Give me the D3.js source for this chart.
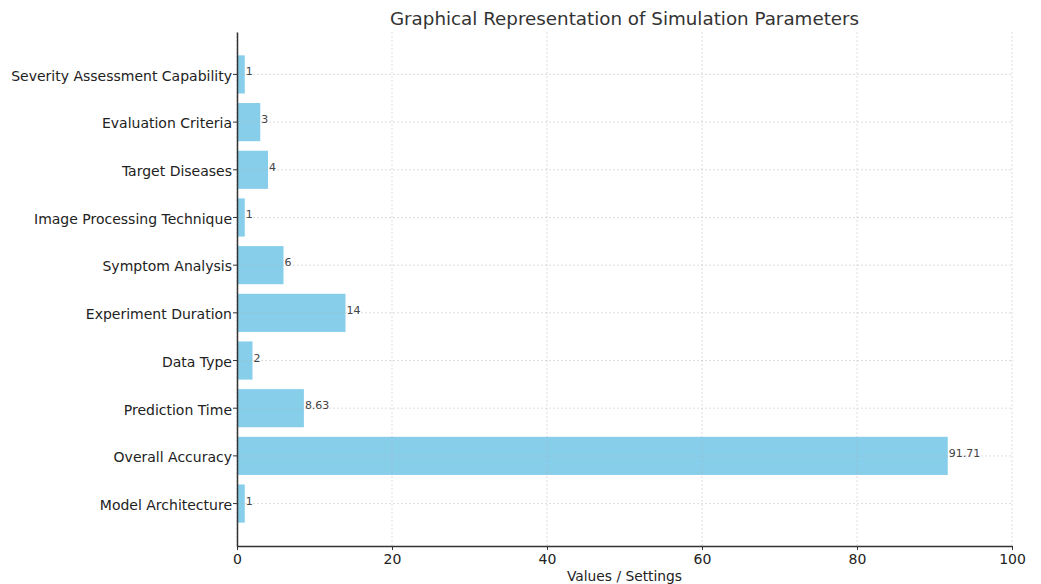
<!DOCTYPE html>
<html>
<head>
<meta charset="utf-8">
<script src="https://cdn.jsdelivr.net/npm/d3@7"></script>
<style>
  body { margin: 0; background: #fff; }
  text { font-family: "DejaVu Sans", sans-serif; }
</style>
</head>
<body>
<script>
// parameters, top to bottom as shown
const parameters = [
    "Severity Assessment Capability", "Evaluation Criteria", "Target Diseases",
    "Image Processing Technique", "Symptom Analysis", "Experiment Duration",
    "Data Type", "Prediction Time", "Overall Accuracy", "Model Architecture"
];
const values = [1, 3, 4, 1, 6, 14, 2, 8.63, 91.71, 1];
const xTicks = [0, 20, 40, 60, 80, 100];

const data = parameters.map((p, i) => ({ name: p, value: values[i] }));

// dimensions and margins
const margin = { top: 32, right: 29, bottom: 38, left: 237 };
const width = 1041 - margin.left - margin.right;
const height = 584 - margin.top - margin.bottom;

const svg = d3.select("body").append("svg")
    .attr("width", 1041)
    .attr("height", 584);

const g = svg.append("g")
    .attr("transform", "translate(" + margin.left + "," + margin.top + ")");

// scales
const xScale = d3.scaleLinear().domain([0, 100]).range([0, width]);
const yScale = d3.scaleBand()
    .domain(parameters)
    .range([0, height])
    .paddingInner(0.2)
    .paddingOuter(0.49);

// bars
g.selectAll("rect.bar")
    .data(data)
    .enter().append("rect")
    .attr("class", "bar")
    .attr("x", 0)
    .attr("y", d => yScale(d.name))
    .attr("width", d => xScale(d.value))
    .attr("height", yScale.bandwidth())
    .style("fill", "#87ceeb");

// grid lines (drawn over the bars, faint)
const grid = g.append("g").attr("class", "grid");
grid.selectAll("line.v")
    .data(xTicks)
    .enter().append("line")
    .attr("x1", d => xScale(d)).attr("x2", d => xScale(d))
    .attr("y1", 0).attr("y2", height)
    .style("stroke", "#b0b0b0")
    .style("stroke-opacity", 0.55)
    .style("stroke-dasharray", "2,2")
    .style("stroke-width", 0.8);
grid.selectAll("line.h")
    .data(parameters)
    .enter().append("line")
    .attr("x1", 0).attr("x2", width)
    .attr("y1", d => yScale(d) + yScale.bandwidth() / 2)
    .attr("y2", d => yScale(d) + yScale.bandwidth() / 2)
    .style("stroke", "#b0b0b0")
    .style("stroke-opacity", 0.55)
    .style("stroke-dasharray", "2,2")
    .style("stroke-width", 0.8);

// value labels
g.selectAll("text.val")
    .data(data)
    .enter().append("text")
    .attr("class", "val")
    .attr("x", d => xScale(d.value) + 1)
    .attr("y", d => yScale(d.name) + yScale.bandwidth() / 2 + 1)
    .style("font-size", "11px")
    .style("fill", "#444")
    .text(d => d.value);

// axes
const xAxis = g.append("g")
    .attr("transform", "translate(0," + height + ")")
    .call(d3.axisBottom(xScale).tickValues(xTicks).tickSize(4).tickPadding(4).tickSizeOuter(0));
const yAxis = g.append("g")
    .call(d3.axisLeft(yScale).tickSize(4).tickPadding(1).tickSizeOuter(0));

[xAxis, yAxis].forEach(a => {
    a.select(".domain").style("stroke", "#333").style("stroke-width", 1.5);
    a.selectAll(".tick line").style("stroke", "#333");
    a.selectAll(".tick text")
        .style("font-family", "'DejaVu Sans', sans-serif")
        .style("font-size", "14px")
        .style("fill", "#222");
});
yAxis.selectAll(".tick text").attr("dy", "0.45em");

// title
svg.append("text")
    .attr("x", margin.left + width / 2)
    .attr("y", 25)
    .style("text-anchor", "middle")
    .style("font-size", "18.3px")
    .style("fill", "#333")
    .text("Graphical Representation of Simulation Parameters");

// x-axis label
svg.append("text")
    .attr("x", margin.left + width / 2)
    .attr("y", 581)
    .style("text-anchor", "middle")
    .style("font-size", "13.8px")
    .style("fill", "#222")
    .text("Values / Settings");
</script>
</body>
</html>
